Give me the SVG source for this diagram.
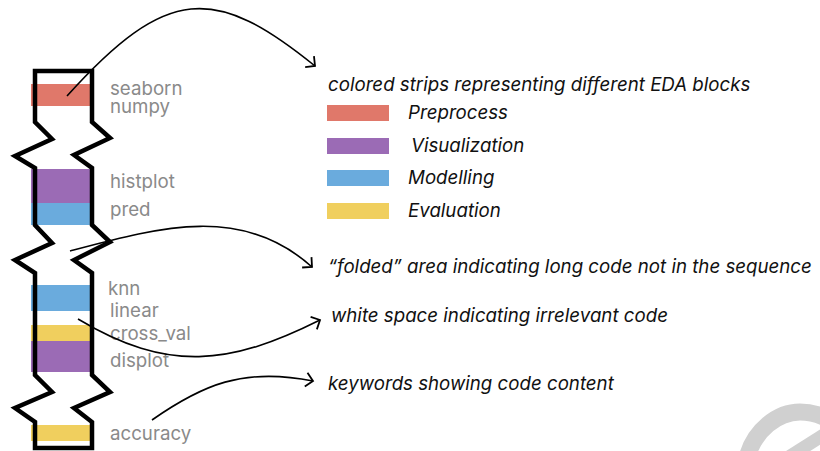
<svg xmlns="http://www.w3.org/2000/svg" width="820" height="451" viewBox="0 0 820 451">
<defs>
<style>
.kw{font-family:Inter,"Liberation Sans",sans-serif;font-size:18.7px;fill:#8a8a8a}
.desc{font-family:Inter,"Liberation Sans",sans-serif;font-size:18.7px;font-style:italic;fill:#111}
.arrow{fill:none;stroke:#000;stroke-width:1.6;marker-end:url(#head)}
.red{fill:#E0786A}.purple{fill:#9B6BB5}.blue{fill:#6AABDD}.yellow{fill:#F0CF5E}
</style>
<marker id="head" markerUnits="userSpaceOnUse" markerWidth="20" markerHeight="20" viewBox="-12 -10 14 20" refX="0" refY="0" orient="auto">
<path d="M -7 -7 L 0 0 L -7 7" fill="none" stroke="#000" stroke-width="1.8"/>
</marker>
</defs>
<rect width="820" height="451" fill="#fff"/>
<g id="watermark" fill="none" stroke="#d0d0d0">
<path d="M 747 458 C 754 430, 778 412, 800 412 C 810 412, 820 415, 828 419" stroke-width="17"/>
<path d="M 784 460 L 828 432" stroke-width="13"/>
</g>
<g id="code-strip">
<rect class="red" x="31" y="84" width="60" height="22"/>
<rect class="purple" x="31" y="169" width="60" height="34"/>
<rect class="blue" x="31" y="203" width="60" height="22"/>
<rect class="blue" x="31" y="285" width="60" height="26"/>
<rect class="yellow" x="31" y="325" width="60" height="16"/>
<rect class="purple" x="31" y="341" width="60" height="31"/>
<rect class="yellow" x="31" y="425" width="60" height="16"/>
<polygon points="35,71 92,71 92,122 110,138 74,155 92,168 92,225 110,242 74,260 92,273 92,375 110,392 74,408 92,422 92,448 35,448 35,422 15,408 52,392 35,375 35,273 15,260 52,243 35,225 35,168 15,156 52,139 35,122" fill="none" stroke="#000" stroke-width="4.5" stroke-linejoin="miter"/>
</g>
<g id="keywords">
<text class="kw" x="110" y="95">seaborn</text>
<text class="kw" x="110" y="113">numpy</text>
<text class="kw" x="110" y="188">histplot</text>
<text class="kw" x="110" y="216">pred</text>
<text class="kw" x="108" y="295">knn</text>
<text class="kw" x="110" y="317">linear</text>
<text class="kw" x="110" y="340">cross_val</text>
<text class="kw" x="110" y="367">displot</text>
<text class="kw" x="110" y="440">accuracy</text>
</g>
<g id="connectors">
<path class="arrow" d="M 67 96 C 167 -15, 215 -15, 315 66"/>
<path class="arrow" d="M 70 251 C 160 227, 242 204, 312 267"/>
<path class="arrow" d="M 78 319 C 168 373, 230 365, 320 320"/>
<path class="arrow" d="M 152 420 C 202 385, 243 367, 313 381"/>
</g>
<g id="legend">
<text class="desc" x="328" y="91">colored strips representing different EDA blocks</text>
<rect class="red" x="327" y="105" width="62" height="16"/>
<text class="desc" x="408" y="119">Preprocess</text>
<rect class="purple" x="327" y="138" width="62" height="16"/>
<text class="desc" x="411" y="152">Visualization</text>
<rect class="blue" x="327" y="170" width="62" height="16"/>
<text class="desc" x="408" y="184">Modelling</text>
<rect class="yellow" x="327" y="203" width="62" height="16"/>
<text class="desc" x="408" y="217">Evaluation</text>
</g>
<g id="notes">
<text class="desc" x="328" y="273">“folded” area indicating long code not in the sequence</text>
<text class="desc" x="331" y="322">white space indicating irrelevant code</text>
<text class="desc" x="328" y="390">keywords showing code content</text>
</g>
</svg>
